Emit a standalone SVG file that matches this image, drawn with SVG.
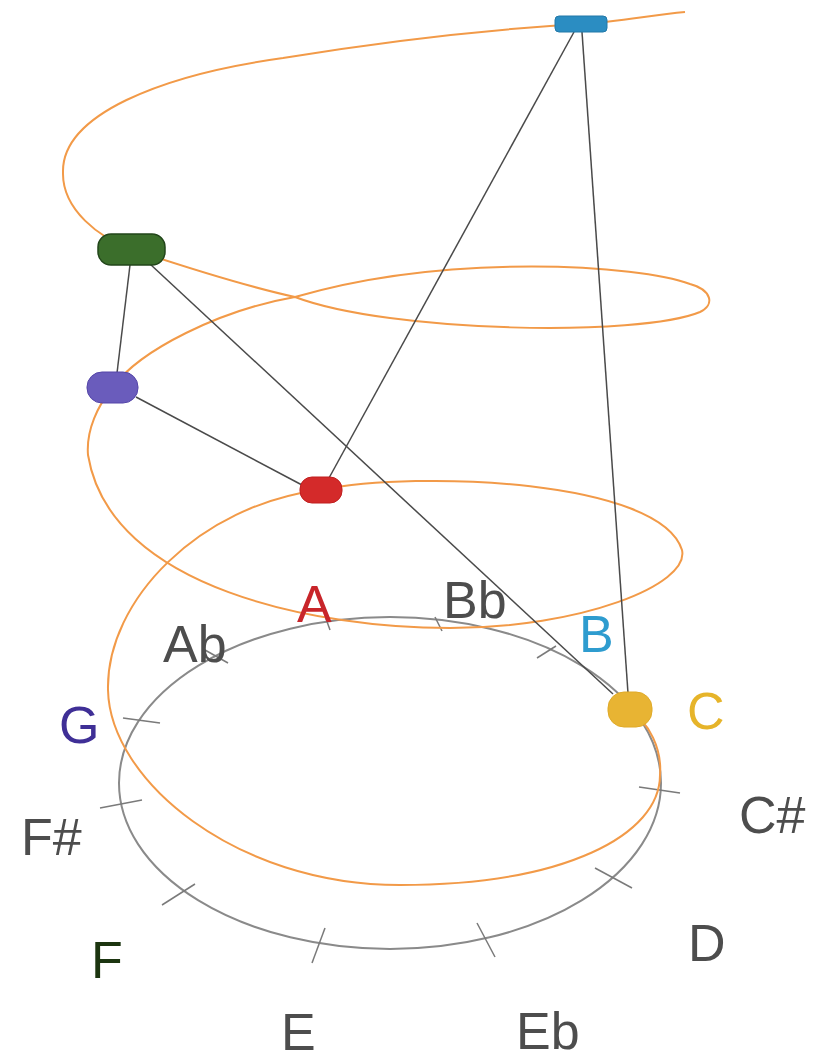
<svg xmlns="http://www.w3.org/2000/svg" width="821" height="1064" viewBox="0 0 821 1064">
<style>
.helix{fill:none;stroke:#f29a48;stroke-width:2}
.ring{fill:none;stroke:#8a8a8a;stroke-width:2}
.tick{stroke:#7a7a7a;stroke-width:1.5}
.edge{stroke:#4a4a4a;stroke-width:1.5;fill:none}
.lbl{font-family:"Liberation Sans",Arial,Helvetica,sans-serif;font-size:52px;fill:#4d4d4d}
</style>
<rect width="821" height="1064" fill="#ffffff"/>
<g id="pitch-circle">
<ellipse class="ring" cx="390" cy="783" rx="271" ry="166"/>
<line class="tick" x1="325" y1="616" x2="330" y2="630"/>
<line class="tick" x1="435" y1="617" x2="442" y2="631"/>
<line class="tick" x1="537" y1="658" x2="556" y2="646"/>
<line class="tick" x1="639" y1="787" x2="680" y2="793"/>
<line class="tick" x1="595" y1="868" x2="632" y2="888"/>
<line class="tick" x1="477" y1="923" x2="495" y2="957"/>
<line class="tick" x1="312" y1="963" x2="325" y2="928"/>
<line class="tick" x1="162" y1="905" x2="195" y2="884"/>
<line class="tick" x1="100" y1="808" x2="142" y2="800"/>
<line class="tick" x1="123" y1="718" x2="160" y2="723"/>
<line class="tick" x1="205" y1="650" x2="228" y2="663"/>
</g>
<g id="helix">
<path class="helix" d="M 628,710 C 650,722 662,750 660,775 C 660,835 565,885 400,885 C 235,885 110,780 108,690 C 106,600 200,505 320,490 C 420,470 660,480 682,550 C 690,585 580,628 450,628 C 320,628 110,590 88,455 C 86,430 98,405 113,387 C 140,350 220,310 295,297 C 390,333 640,337 700,312 C 715,305 712,290 690,284 C 640,265 450,252 295,297 C 240,285 170,262 131,249 C 100,238 62,210 63,172 C 62,115 160,75 283,58 C 380,42 480,30 580,24 C 620,22 650,15 685,12"/>
</g>
<g id="connectors">
<line class="edge" x1="574" y1="32" x2="329" y2="478"/>
<line class="edge" x1="582" y1="32" x2="628" y2="693"/>
<line class="edge" x1="130" y1="265" x2="117" y2="373"/>
<line class="edge" x1="150" y1="264" x2="613" y2="694"/>
<line class="edge" x1="136" y1="397" x2="302" y2="485"/>
</g>
<g id="node-B"><rect x="555" y="16" width="52" height="16" rx="4" fill="#2b8dc2" stroke="#2278a8" stroke-width="1"/></g>
<g id="node-F"><rect x="98" y="234" width="67" height="31" rx="13" fill="#3b6e2b" stroke="#22461a" stroke-width="1.5"/></g>
<g id="node-G"><rect x="87" y="372" width="51" height="31" rx="15" fill="#6a5cbc" stroke="#5445a8" stroke-width="1"/></g>
<g id="node-A"><rect x="300" y="477" width="42" height="26" rx="12" fill="#d42a2a" stroke="#c01f1f" stroke-width="1"/></g>
<g id="node-C"><rect x="608" y="692" width="44" height="35" rx="16" fill="#e8b433" stroke="#e0aa28" stroke-width="1"/></g>
<g id="labels">
<text class="lbl" x="297" y="622" style="fill:#c8252a">A</text>
<text class="lbl" x="443" y="618">Bb</text>
<text class="lbl" x="579" y="652" style="fill:#2e9ccf">B</text>
<text class="lbl" x="687" y="729" style="fill:#e6b42a">C</text>
<text class="lbl" x="739" y="833">C#</text>
<text class="lbl" x="688" y="961">D</text>
<text class="lbl" x="516" y="1049">Eb</text>
<text class="lbl" x="281" y="1050">E</text>
<text class="lbl" x="91" y="978" style="fill:#1c3510">F</text>
<text class="lbl" x="21" y="855">F#</text>
<text class="lbl" x="59" y="743" style="fill:#3f2f96">G</text>
<text class="lbl" x="163" y="662">Ab</text>
</g>
</svg>
